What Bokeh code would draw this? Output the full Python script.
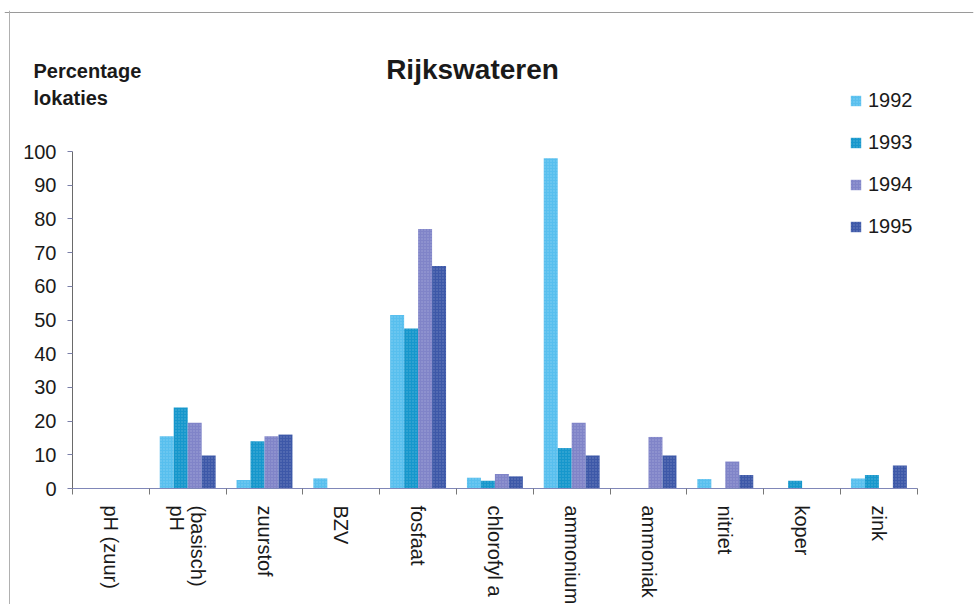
from bokeh.plotting import figure
from bokeh.models import (Range1d, LinearAxis, FixedTicker, Span,
                          Legend, LegendItem, Label, ColumnDataSource)
from bokeh.transform import dodge
from bokeh.embed import file_html
from bokeh.resources import INLINE

categories = ["pH (zuur)", "(basisch)\npH", "zuurstof", "BZV", "fosfaat", "chlorofyl a",
              "ammonium", "ammoniak", "nitriet", "koper", "zink"]
years = ["1992", "1993", "1994", "1995"]
v1992 = [0, 15.5, 2.5, 3, 51.5, 3.2, 98, 0, 2.8, 0, 3]
v1993 = [0, 24, 14, 0, 47.5, 2.3, 12, 0, 0, 2.3, 4]
v1994 = [0, 19.5, 15.5, 0, 77, 4.3, 19.5, 15.3, 8, 0, 0]
v1995 = [0, 9.8, 16, 0, 66, 3.6, 9.8, 9.8, 4, 0, 6.8]
y_ticks = [0, 10, 20, 30, 40, 50, 60, 70, 80, 90, 100]

colors = ["#58bfee", "#1697cc", "#8084c8", "#3d58a8"]
FONT = "Liberation Sans"

# layout constants (pixels, page coordinates)
FL, FT = 4, 10                # frame left / top
FRAME_W, FRAME_H = 969, 594   # frame size
AXIS_X, AXIS_Y = 72, 488      # where the axes cross (page pixels)
PX_CAT = 76.8                 # pixels per category
PX_UNIT = 3.37                # pixels per percent
FB = FT + FRAME_H


def sx(x):
    return x - FL


def sy(y):
    return FB - y


n = len(categories)
centers = [i + 0.5 for i in range(n)]
src = ColumnDataSource(dict(xc=centers, y1992=v1992, y1993=v1993, y1994=v1994, y1995=v1995))

x0 = -(AXIS_X - FL) / PX_CAT
y1 = (AXIS_Y - FT) / PX_UNIT
p = figure(x_range=Range1d(x0, x0 + FRAME_W / PX_CAT),
           y_range=Range1d(y1 - FRAME_H / PX_UNIT, y1),
           frame_width=FRAME_W, frame_height=FRAME_H,
           min_border_left=FL, min_border_right=2, min_border_top=FT, min_border_bottom=0,
           output_backend="svg", toolbar_location=None, x_axis_location=None,
           background_fill_color="white", border_fill_color="white")
p.outline_line_color = None
p.xgrid.grid_line_color = None
p.ygrid.grid_line_color = None

bw = 0.182
offsets = [-1.5 * bw, -0.5 * bw, 0.5 * bw, 1.5 * bw]
renderers = []
for yr, col, off in zip(years, colors, offsets):
    r = p.vbar(x=dodge("xc", off), top="y" + yr, width=bw, source=src,
               fill_color=col, line_color=None,
               hatch_pattern="dot", hatch_color="white", hatch_alpha=0.25,
               hatch_scale=3, hatch_weight=1)
    renderers.append(r)

# y axis, drawn at x = 0 inside the frame
ya = p.yaxis[0]
ya.fixed_location = 0
ya.bounds = (0, 100)
ya.ticker = FixedTicker(ticks=y_ticks)
ya.axis_line_color = "#6a6a6a"
ya.major_tick_line_color = "#7a7fa8"
ya.major_tick_out = 5
ya.major_tick_in = 0
ya.minor_tick_line_color = None
ya.major_label_text_font = FONT
ya.major_label_text_font_size = "20px"
ya.major_label_text_color = "#1a1a1a"
ya.major_label_standoff = 11

# x axis at y = 0: labels at category centres, tick marks at category boundaries
xa = LinearAxis(fixed_location=0,
                ticker=FixedTicker(ticks=centers, minor_ticks=list(range(n + 1))),
                bounds=(0, n),
                major_label_overrides={c: name for c, name in zip(centers, categories)},
                axis_line_color="#8087b8", major_tick_line_color=None,
                major_tick_out=6, major_tick_in=0,
                minor_tick_line_color="#777777", minor_tick_out=6, minor_tick_in=0,
                major_label_orientation="vertical", major_label_standoff=11,
                major_label_text_font=FONT, major_label_text_font_size="20px",
                major_label_text_line_height=0.95,
                major_label_text_color="#1a1a1a")
p.add_layout(xa, "below")

legend = Legend(items=[LegendItem(label=yr, renderers=[r]) for yr, r in zip(years, renderers)],
                location=(sx(849), sy(238)), orientation="vertical", glyph_width=13, glyph_height=13,
                label_height=20, spacing=19, padding=0, margin=0, label_standoff=6,
                label_text_font=FONT, label_text_font_size="20px", label_text_color="#1a1a1a",
                border_line_color=None, background_fill_alpha=0)
p.add_layout(legend, "center")

p.add_layout(Label(x=sx(472), y=sy(69), x_units="screen", y_units="screen", text="Rijkswateren",
                   text_font=FONT, text_font_size="28px", text_font_style="bold",
                   text_align="center", text_baseline="middle", text_color="#1a1a1a"))
p.add_layout(Label(x=sx(33), y=sy(70), x_units="screen", y_units="screen", text="Percentage",
                   text_font=FONT, text_font_size="20px", text_font_style="bold",
                   text_align="left", text_baseline="middle", text_color="#1a1a1a"))
p.add_layout(Label(x=sx(33), y=sy(97), x_units="screen", y_units="screen", text="lokaties",
                   text_font=FONT, text_font_size="20px", text_font_style="bold",
                   text_align="left", text_baseline="middle", text_color="#1a1a1a"))

# faint outer frame of the original figure
p.add_layout(Span(location=sy(12), location_units="screen", dimension="width",
                  line_color="#9a9a9a", line_width=1))
p.add_layout(Span(location=sx(9), location_units="screen", dimension="height",
                  line_color="#b0b0b0", line_width=1))

open("out.html", "w").write(file_html(p, INLINE))
